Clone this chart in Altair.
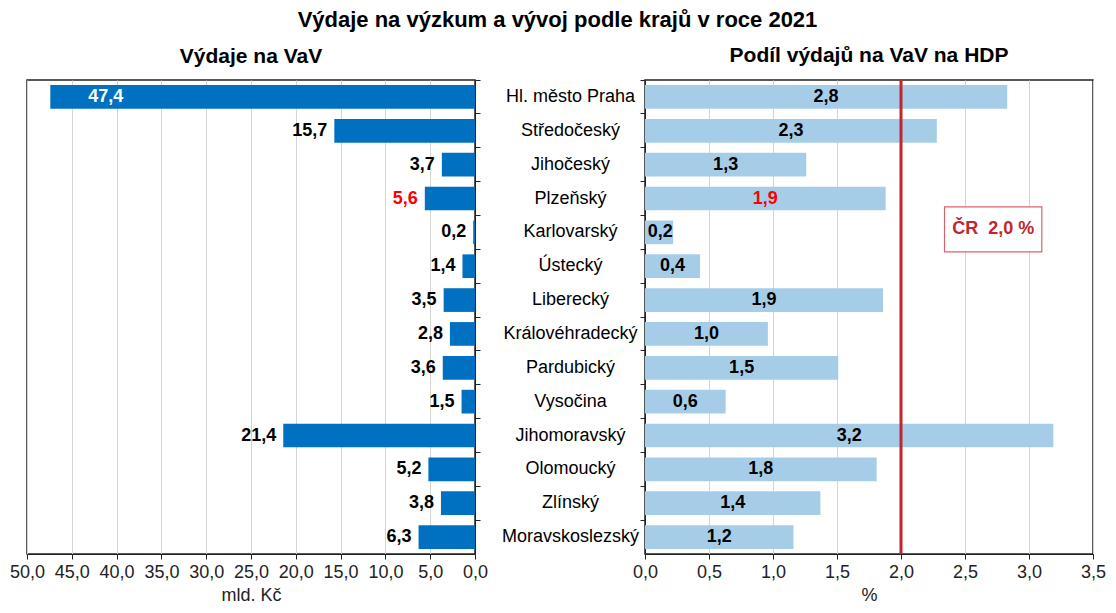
import altair as alt
import pandas as pd

regions = ["Hl. město Praha", "Středočeský", "Jihočeský", "Plzeňský", "Karlovarský",
           "Ústecký", "Liberecký", "Královéhradecký", "Pardubický", "Vysočina",
           "Jihomoravský", "Olomoucký", "Zlínský", "Moravskoslezský"]
vav_bn_czk = [47.4, 15.7, 3.7, 5.6, 0.2, 1.4, 3.5, 2.8, 3.6, 1.5, 21.4, 5.2, 3.8, 6.3]
gdp_share_pct = [2.83, 2.28, 1.26, 1.88, 0.22, 0.43, 1.86, 0.96, 1.51, 0.63, 3.19, 1.81, 1.37, 1.16]
gdp_share_labels = ["2,8", "2,3", "1,3", "1,9", "0,2", "0,4", "1,9", "1,0", "1,5", "0,6",
                    "3,2", "1,8", "1,4", "1,2"]
cz_average = 2.0
cz_label = "ČR\u00a0\u00a02,0 %"
highlight_region = "Plzeňský"
box_region = "Karlovarský"
box_range = [2.34, 3.10]

left_ticks = [0, 5, 10, 15, 20, 25, 30, 35, 40, 45, 50]
right_ticks = [0, 0.5, 1.0, 1.5, 2.0, 2.5, 3.0, 3.5]

FONT = "Liberation Sans"
BLUE = "#0070C0"
LIGHT = "#A6CDE8"
RED = "#C0262D"
FS = 18
H = 474

df = pd.DataFrame({"region": regions, "vav": vav_bn_czk, "share": gdp_share_pct,
                   "share_lab": gdp_share_labels})

fmt = "replace(format(datum.value, '.1f'), '.', ',')"
yscale = alt.Scale(domain=regions, paddingInner=0, paddingOuter=0)
is_hl = f"datum.region == '{highlight_region}'"

# ---------- left panel ----------
lbase = alt.Chart(df).transform_calculate(
    lab="replace(format(datum.vav, '.1f'), '.', ',')"
)
lx = alt.X("vav:Q", scale=alt.Scale(domain=[0, 50], reverse=True, nice=False),
           axis=alt.Axis(values=left_ticks, labelExpr=fmt, title="mld. Kč",
                         grid=True, tickSize=5, labelPadding=4, titlePadding=5,
                         labelFlush=False, labelOverlap=False))
ly = alt.Y("region:N", sort=regions, scale=yscale,
           axis=alt.Axis(orient="right", labels=False, title=None, ticks=True,
                         tickSize=5, bandPosition=0, grid=False))
lbars = lbase.mark_bar(color=BLUE, height={"band": 0.7}).encode(x=lx, y=ly)
ltext_out = lbase.transform_filter("datum.vav < 40").mark_text(
    align="right", dx=-7, fontWeight="bold", fontSize=FS, font=FONT
).encode(
    x="vav:Q", y=alt.Y("region:N", sort=regions), text="lab:N",
    color=alt.condition(is_hl, alt.value("#FF0000"), alt.value("#000000")),
)
ltext_in = lbase.transform_filter("datum.vav >= 40").mark_text(
    align="left", dx=38, fontWeight="bold", fontSize=FS, font=FONT, color="white"
).encode(x="vav:Q", y=alt.Y("region:N", sort=regions), text="lab:N")

left = alt.layer(lbars, ltext_out, ltext_in).properties(
    width=448, height=H,
    title=alt.TitleParams("Výdaje na VaV", fontSize=21, fontWeight="bold",
                          anchor="middle", frame="group", offset=13, font=FONT),
)

# ---------- right panel ----------
rbase = alt.Chart(df).transform_calculate(pos="max(datum.share / 2, 0.12)")
rx = alt.X("share:Q", scale=alt.Scale(domain=[0, 3.5], nice=False),
           axis=alt.Axis(values=right_ticks, labelExpr=fmt, title="%",
                         grid=True, tickSize=5, labelPadding=4, titlePadding=5,
                         labelFlush=False, labelOverlap=False))
ry = alt.Y("region:N", sort=regions, scale=yscale,
           axis=alt.Axis(orient="left", title=None, ticks=True, tickSize=5,
                         bandPosition=0, grid=False, labelAlign="center",
                         labelPadding=70, labelFontSize=FS, labelColor="#000"))
rbars = rbase.mark_bar(color=LIGHT, height={"band": 0.7}).encode(x=rx, y=ry)
rtext = rbase.mark_text(fontWeight="bold", fontSize=FS, font=FONT).encode(
    x="pos:Q", y=alt.Y("region:N", sort=regions), text="share_lab:N",
    color=alt.condition(is_hl, alt.value("#FF0000"), alt.value("#000000")),
)
rule = alt.Chart(pd.DataFrame({"v": [cz_average]})).mark_rule(
    color=RED, strokeWidth=3).encode(x="v:Q")
box_df = pd.DataFrame({"region": [box_region], "x1": [box_range[0]], "x2": [box_range[1]],
                       "t": [cz_label], "xm": [(box_range[0] + box_range[1]) / 2]})
box = alt.Chart(box_df).mark_bar(height=45, fill="white", stroke="#D9646C",
                                 strokeWidth=1.2, yOffset=-3).encode(
    x="x1:Q", x2="x2:Q", y=alt.Y("region:N", sort=regions))
box_text = alt.Chart(box_df).mark_text(
    fontWeight="bold", fontSize=FS, font=FONT, color=RED, yOffset=-3
).encode(x="xm:Q", y=alt.Y("region:N", sort=regions), text="t:N")

right = alt.layer(rbars, rtext, rule, box, box_text).properties(
    width=448, height=H,
    title=alt.TitleParams("Podíl výdajů na VaV na HDP", fontSize=21, fontWeight="bold",
                          anchor="middle", frame="group", offset=13, font=FONT),
)

chart = alt.hconcat(left, right, spacing=11).properties(
    title=alt.TitleParams("Výdaje na výzkum a vývoj podle krajů v roce 2021",
                          fontSize=22, fontWeight="bold", anchor="middle",
                          offset=12, font=FONT),
    padding={"left": 0, "right": 0, "top": 0, "bottom": 0},
).configure_view(stroke="#222", strokeWidth=1.5).configure_axis(
    labelFont=FONT, titleFont=FONT, labelFontSize=FS, titleFontSize=FS,
    titleFontWeight="normal", labelColor="#222", titleColor="#222",
    gridColor="#D4D4D4", tickColor="#222", domainColor="#222",
).configure_text(font=FONT)

chart.save("out.html", embed_options={"renderer": "svg", "actions": False})
